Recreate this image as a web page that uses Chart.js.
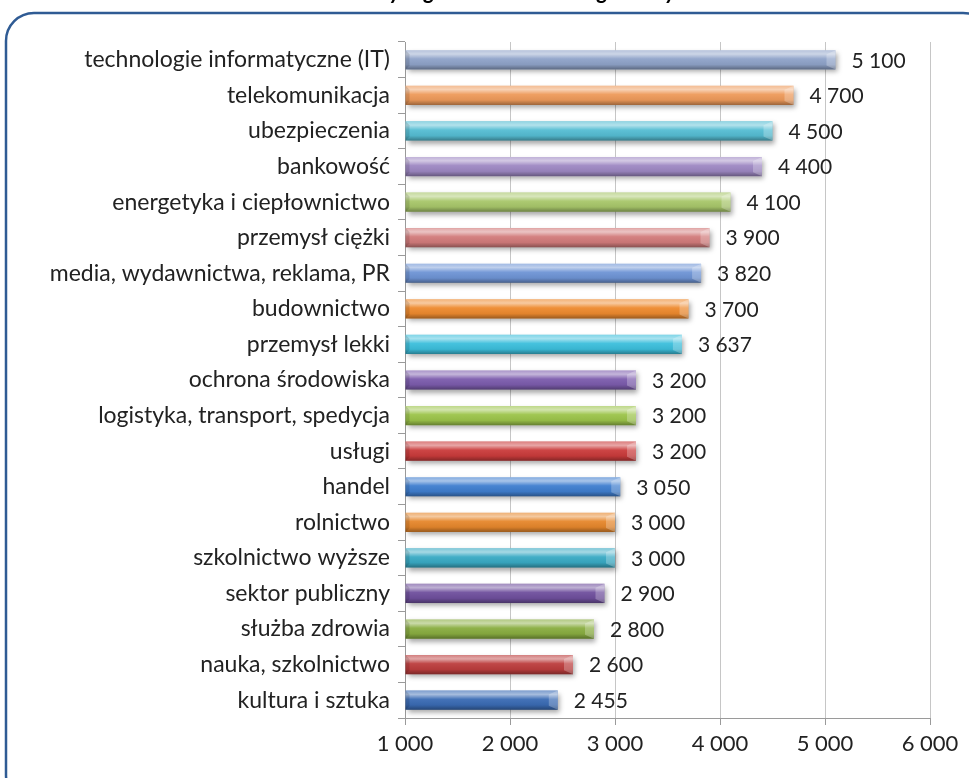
<!DOCTYPE html>
<html>
<head>
<meta charset="utf-8">
<script src="https://cdn.jsdelivr.net/npm/chart.js@4"></script>
<style>
  body { margin: 0; background: #fff; }
  #wrap { width: 969px; height: 778px; }
</style>
</head>
<body>
<div id="wrap"><canvas id="chart" width="969" height="778"></canvas></div>
<script>
// branże i pensje (zł)
const categories = [
  'technologie informatyczne (IT)', 'telekomunikacja', 'ubezpieczenia', 'bankowość',
  'energetyka i ciepłownictwo', 'przemysł ciężki', 'media, wydawnictwa, reklama, PR',
  'budownictwo', 'przemysł lekki', 'ochrona środowiska', 'logistyka, transport, spedycja',
  'usługi', 'handel', 'rolnictwo', 'szkolnictwo wyższe', 'sektor publiczny',
  'służba zdrowia', 'nauka, szkolnictwo', 'kultura i sztuka'
];
const salaries = [5100, 4700, 4500, 4400, 4100, 3900, 3820, 3700, 3637, 3200, 3200, 3200, 3050, 3000, 3000, 2900, 2800, 2600, 2455];
const xTicks = [1000, 2000, 3000, 4000, 5000, 6000];
const barColors = [
  '#8FA3C9', '#EE9A5A', '#55BDD3', '#9E88C3', '#A8C76A', '#D27B7B', '#6E94D5',
  '#EE8A2E', '#3CBFDC', '#7C5CAD', '#9CC44A', '#CA3B3B', '#3F7ECF', '#E6872C',
  '#39AAC4', '#6F4F9D', '#89AD40', '#BC3D3D', '#3A6BB4'
];
const title = 'Średnie wynagrodzenie brutto wg branży w Polsce';

const fmt = v => {
  const s = String(v);
  return s.length > 3 ? s.slice(0, -3) + ' ' + s.slice(-3) : s;
};

const FONT = 'Lato, "Open Sans", sans-serif';

const framePlugin = {
  id: 'frame',
  beforeDraw(chart) {
    const c = chart.ctx;
    c.save();
    c.fillStyle = '#fff';
    c.fillRect(0, 0, chart.width, chart.height);
    // tytuł ucięty u góry
    c.font = 'italic bold 22px ' + FONT;
    c.fillStyle = '#000';
    c.textAlign = 'center';
    c.textBaseline = 'alphabetic';
    c.fillText(title, 530, -1);
    // zaokrąglona ramka
    c.strokeStyle = '#2F5B94';
    c.lineWidth = 2.5;
    c.beginPath();
    c.roundRect(6, 13, 985, 790, 28);
    c.stroke();
    c.restore();
  },
  beforeDatasetsDraw(chart) {
    const c = chart.ctx;
    c.save();
    c.shadowColor = 'rgba(0,0,0,0.35)';
    c.shadowBlur = 5;
    c.shadowOffsetX = 2;
    c.shadowOffsetY = 3;
  },
  afterDatasetsDraw(chart) {
    const c = chart.ctx;
    c.restore();
    const meta = chart.getDatasetMeta(0);
    meta.data.forEach((bar, i) => {
      const top = bar.y - bar.height / 2;
      const bottom = bar.y + bar.height / 2;
      const left = Math.max(bar.base, chart.chartArea.left);
      const right = bar.x;
      c.save();
      const g = c.createLinearGradient(0, top, 0, bottom);
      g.addColorStop(0, 'rgba(255,255,255,0.35)');
      g.addColorStop(0.2, 'rgba(255,255,255,0.55)');
      g.addColorStop(0.45, 'rgba(255,255,255,0.05)');
      g.addColorStop(0.75, 'rgba(0,0,0,0.05)');
      g.addColorStop(1, 'rgba(0,0,0,0.35)');
      c.fillStyle = g;
      c.fillRect(left, top, right - left, bottom - top);
      // skos na końcu słupka
      c.beginPath();
      c.moveTo(right, top);
      c.lineTo(right - 9, top + 4);
      c.lineTo(right - 9, bottom - 4);
      c.lineTo(right, bottom);
      c.closePath();
      c.fillStyle = 'rgba(255,255,255,0.25)';
      c.fill();
      c.beginPath();
      c.moveTo(left, top);
      c.lineTo(left + 4, top + 4);
      c.lineTo(left + 4, bottom - 4);
      c.lineTo(left, bottom);
      c.closePath();
      c.fillStyle = 'rgba(0,0,0,0.12)';
      c.fill();
      // etykieta wartości
      c.font = '21px ' + FONT;
      c.fillStyle = '#222';
      c.textAlign = 'left';
      c.textBaseline = 'middle';
      c.fillText(fmt(salaries[i]), right + 16, bar.y + 1);
      c.restore();
    });
  }
};

new Chart(document.getElementById('chart'), {
  type: 'bar',
  data: {
    labels: categories,
    datasets: [{
      data: salaries,
      base: 1000,
      backgroundColor: barColors,
      borderWidth: 0,
      barPercentage: 0.54,
      categoryPercentage: 1
    }]
  },
  options: {
    indexAxis: 'y',
    responsive: false,
    animation: false,
    layout: { padding: { left: 10, right: 39, top: 42, bottom: 0 } },
    plugins: { legend: { display: false }, tooltip: { enabled: false } },
    scales: {
      x: {
        min: 1000,
        max: 6000,
        afterBuildTicks: s => { s.ticks = xTicks.map(v => ({ value: v })); },
        afterFit: s => { s.height = 60; },
        grid: { color: '#C6C6C6', tickColor: '#9A9A9A', tickLength: 7, lineWidth: 1 },
        border: { color: '#9A9A9A' },
        ticks: {
          callback: v => fmt(v),
          color: '#222',
          font: { family: FONT, size: 22 },
          padding: 6,
          maxRotation: 0
        }
      },
      y: {
        afterFit: s => { s.width = 395; },
        grid: { display: true, drawOnChartArea: false, offset: true, tickLength: 7, tickColor: '#9A9A9A' },
        border: { color: '#9A9A9A' },
        ticks: {
          color: '#222',
          font: { family: FONT, size: 23 },
          padding: 8,
          autoSkip: false
        }
      }
    }
  },
  plugins: [framePlugin]
});
</script>
</body>
</html>
